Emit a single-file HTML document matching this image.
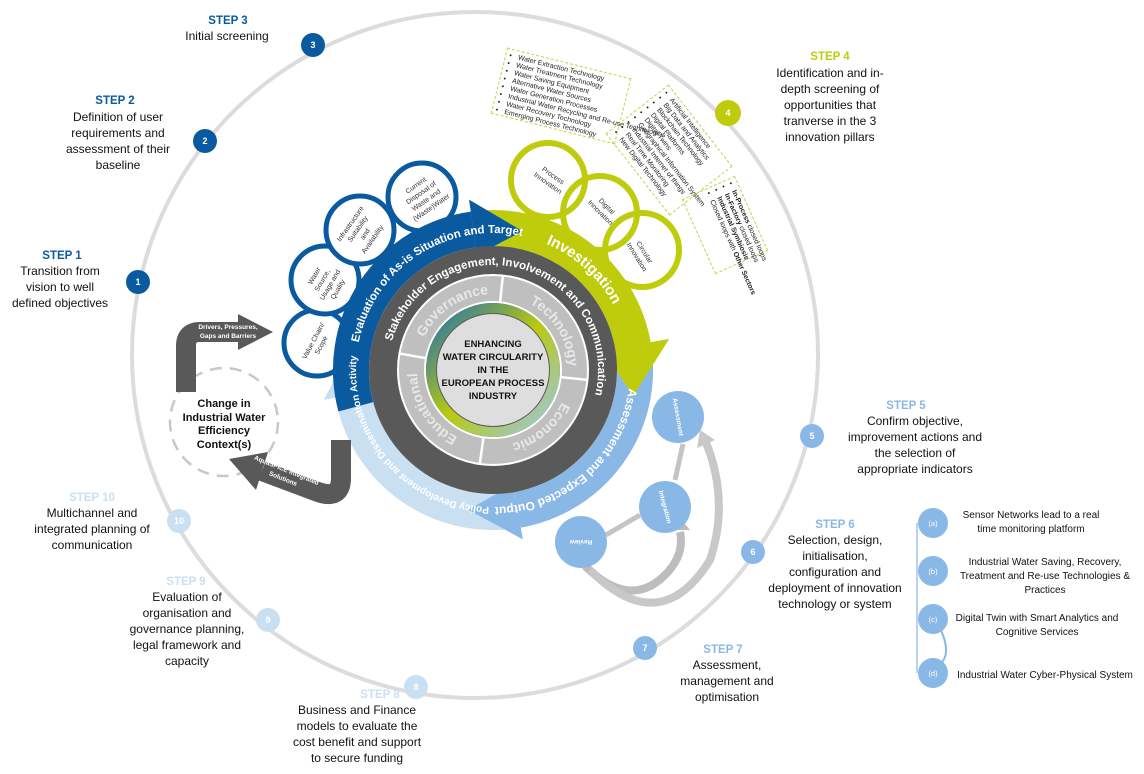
<!DOCTYPE html>
<html><head><meta charset="utf-8"><style>
html,body{margin:0;padding:0;background:#fff;}
#w{position:relative;width:1144px;height:774px;overflow:hidden;font-family:"Liberation Sans",sans-serif;}
svg{position:absolute;left:0;top:0;}
.box{position:absolute;border:1.5px dashed #c5d24a;font-size:7px;line-height:8px;color:#222;box-sizing:border-box;padding:3px 4px 3px 12px;}
.box div{position:relative;white-space:nowrap}
.box div:before{content:"•";position:absolute;left:-9px;}
</style></head><body><div id="w">
<svg width="1144" height="774" viewBox="0 0 1144 774" font-family="Liberation Sans, sans-serif">
<defs>
<linearGradient id="gr" x1="0" y1="0" x2="1" y2="1">
<stop offset="0" stop-color="#1f6fb2"/><stop offset="0.5" stop-color="#b9c90e"/><stop offset="1" stop-color="#9cc6ea"/></linearGradient>
<path id="c137" d="M356,370 a137,137 0 1 1 274,0 a137,137 0 1 1 -274,0 a137,137 0 1 1 274,0 a137,137 0 1 1 -274,0"/>
<path id="c105" d="M388,370 a105,105 0 1 1 210,0 a105,105 0 1 1 -210,0 a105,105 0 1 1 210,0 a105,105 0 1 1 -210,0"/>
<path id="c76" d="M417,370 a76,76 0 1 1 152,0 a76,76 0 1 1 -152,0 a76,76 0 1 1 152,0 a76,76 0 1 1 -152,0"/>
</defs>
<circle cx="475" cy="355" r="343" fill="none" stroke="#dcdcdc" stroke-width="4"/>
<g font-size="9" font-weight="bold" fill="#fff" text-anchor="middle">
<circle cx="138" cy="282" r="12" fill="#0a5aa0"/><text x="138" y="285">1</text>
<circle cx="205" cy="141" r="12" fill="#0a5aa0"/><text x="205" y="144">2</text>
<circle cx="313" cy="45" r="12" fill="#0a5aa0"/><text x="313" y="48">3</text>
<circle cx="728" cy="113" r="13" fill="#bfcc0c"/><text x="728" y="116">4</text>
<circle cx="812" cy="436" r="12" fill="#8ab8e6"/><text x="812" y="439">5</text>
<circle cx="753" cy="552" r="12" fill="#8ab8e6"/><text x="753" y="555">6</text>
<circle cx="645" cy="648" r="12" fill="#8ab8e6"/><text x="645" y="651">7</text>
<circle cx="416" cy="687" r="12" fill="#c9dff2"/><text x="416" y="690">8</text>
<circle cx="268" cy="620" r="12" fill="#c9dff2"/><text x="268" y="623">9</text>
<circle cx="179" cy="521" r="12" fill="#c9dff2"/><text x="179" y="524">10</text>
</g>
<g font-size="12" fill="#111" text-anchor="middle">
<text x="228" y="24" font-weight="bold" fill="#0a5aa0" font-size="11.5">STEP 3</text><text x="227" y="40">Initial screening</text>
<text x="115" y="104" font-weight="bold" fill="#0a5aa0" font-size="11.5">STEP 2</text>
<text x="118" y="121">Definition of user</text><text x="118" y="137">requirements and</text><text x="118" y="153">assessment of their</text><text x="118" y="169">baseline</text>
<text x="62" y="259" font-weight="bold" fill="#0a5aa0" font-size="11.5">STEP 1</text>
<text x="60" y="275">Transition from</text><text x="60" y="291">vision to well</text><text x="60" y="307">defined objectives</text>
<text x="830" y="60" font-weight="bold" fill="#bfcc0c" font-size="11.5">STEP 4</text>
<text x="830" y="77">Identification and in-</text><text x="830" y="93">depth screening of</text><text x="830" y="109">opportunities that</text><text x="830" y="125">tranverse in the 3</text><text x="830" y="141">innovation pillars</text>
<text x="906" y="409" font-weight="bold" fill="#8ab8e6" font-size="11.5">STEP 5</text>
<text x="915" y="425">Confirm objective,</text><text x="915" y="441">improvement actions and</text><text x="915" y="457">the selection of</text><text x="915" y="473">appropriate indicators</text>
<text x="835" y="528" font-weight="bold" fill="#8ab8e6" font-size="11.5">STEP 6</text>
<text x="835" y="544">Selection, design,</text><text x="835" y="560">initialisation,</text><text x="835" y="576">configuration and</text><text x="835" y="592">deployment of innovation</text><text x="835" y="608">technology or system</text>
<text x="723" y="653" font-weight="bold" fill="#8ab8e6" font-size="11.5">STEP 7</text>
<text x="727" y="669">Assessment,</text><text x="727" y="685">management and</text><text x="727" y="701">optimisation</text>
<text x="380" y="698" font-weight="bold" fill="#c9dff2" font-size="11.5">STEP 8</text>
<text x="357" y="714">Business and Finance</text><text x="357" y="730">models to evaluate the</text><text x="357" y="746">cost benefit and support</text><text x="357" y="762">to secure funding</text>
<text x="186" y="585" font-weight="bold" fill="#c9dff2" font-size="11.5">STEP 9</text>
<text x="187" y="601">Evaluation of</text><text x="187" y="617">organisation and</text><text x="187" y="633">governance planning,</text><text x="187" y="649">legal framework and</text><text x="187" y="665">capacity</text>
<text x="92" y="501" font-weight="bold" fill="#c9dff2" font-size="11.5">STEP 10</text>
<text x="92" y="517">Multichannel and</text><text x="92" y="533">integrated planning of</text><text x="92" y="549">communication</text>
</g>
<g fill="#fff" stroke="#0a5aa0" stroke-width="5">
<circle cx="317" cy="343" r="33"/><circle cx="325" cy="280" r="34"/><circle cx="360" cy="230" r="34"/><circle cx="422" cy="197" r="34"/>
</g>
<g font-size="7" fill="#333" text-anchor="middle">
<text transform="translate(317,343) rotate(-62)"><tspan x="0" y="-2">Value Chain/</tspan><tspan x="0" y="7">Scope</tspan></text>
<text transform="translate(325,282) rotate(-60)"><tspan x="0" y="-10">Water</tspan><tspan x="0" y="-1">Source,</tspan><tspan x="0" y="8">Usage and</tspan><tspan x="0" y="17">Quality</tspan></text>
<text transform="translate(362,232) rotate(-55)"><tspan x="0" y="-12">Infrastructure</tspan><tspan x="0" y="-3">Suitability</tspan><tspan x="0" y="6">and</tspan><tspan x="0" y="15">Availability</tspan></text>
<text transform="translate(424,197) rotate(-35)"><tspan x="0" y="-12">Current</tspan><tspan x="0" y="-3">Disposal of</tspan><tspan x="0" y="6">Waste and</tspan><tspan x="0" y="15">(Waste)Water</tspan></text>
</g>
<g fill="none" stroke="#bfcc0c" stroke-width="6">
<circle cx="548" cy="180" r="37"/><circle cx="600" cy="213" r="37"/><circle cx="642" cy="250" r="37"/>
</g>
<g font-size="7" fill="#333" text-anchor="middle">
<text transform="translate(550,180) rotate(35)"><tspan x="0" y="-3">Process</tspan><tspan x="0" y="6">Innovation</tspan></text>
<text transform="translate(603,210) rotate(45)"><tspan x="0" y="-3">Digital</tspan><tspan x="0" y="6">Innovation</tspan></text>
<text transform="translate(640,255) rotate(58)"><tspan x="0" y="-3">Circular</tspan><tspan x="0" y="6">Innovation</tspan></text>
</g>
<g fill="none" stroke-width="36">
<path d="M529.8,507.2 A142,142 0 0 1 353.1,394.7" stroke="#c9dff2"/>
<polygon points="609,370 665,370 626.4,418.6" fill="#c9dff2" stroke="none" transform="rotate(170 493 370)"/>
<path d="M630.2,333.2 A142,142 0 0 1 517.7,509.9" stroke="#8ab8e6"/>
<polygon points="609,370 665,370 626.4,418.6" fill="#8ab8e6" stroke="none" transform="rotate(80 493 370)"/>
<path d="M488.0,228.1 A142,142 0 0 1 632.9,345.3" stroke="#bfcc0c"/>
<polygon points="605,370 672,370 626.4,420" fill="#bfcc0c" stroke="none" transform="rotate(350 493 370)"/>
<path d="M355.8,406.8 A142,142 0 0 1 473.3,229.4" stroke="#0a5aa0"/>
<polygon points="609,370 665,370 626.4,418.6" fill="#0a5aa0" stroke="none" transform="rotate(262 493 370)"/>
</g>
<g fill="#fff" font-weight="bold">
<text font-size="11.5"><textPath href="#c137" startOffset="136" text-anchor="middle">Evaluation of As-is Situation and Target</textPath></text>
<text font-size="15"><textPath href="#c137" startOffset="316" text-anchor="middle">Investigation</textPath></text>
<text font-size="12"><textPath href="#c137" startOffset="546" text-anchor="middle">Assessment and Expected Output</textPath></text>
<text font-size="10"><textPath href="#c137" startOffset="762" text-anchor="middle">Policy Development and Dissemination Activity</textPath></text>
</g>
<circle cx="493" cy="370" r="124" fill="#595959"/>
<text font-size="11.5" fill="#fff" font-weight="bold"><textPath href="#c105" startOffset="192" text-anchor="middle">Stakeholder Engagement, Involvement and Communication</textPath></text>
<circle cx="493" cy="370" r="81.5" fill="none" stroke="#bfbfbf" stroke-width="27"/>
<circle cx="493" cy="370" r="95" fill="none" stroke="#fff" stroke-width="2"/>
<circle cx="493" cy="370" r="68" fill="none" stroke="#fff" stroke-width="2"/>
<g stroke="#fff" stroke-width="2.5">
<line x1="500.1" y1="302.4" x2="502.9" y2="275.5"/>
<line x1="560.6" y1="377.1" x2="587.5" y2="379.9"/>
<line x1="483.5" y1="437.3" x2="479.8" y2="464.1"/>
<line x1="426.0" y1="358.2" x2="399.4" y2="353.5"/>
</g>
<g font-size="14" font-weight="bold" fill="#e8e8e8">
<text><textPath href="#c76" startOffset="74" text-anchor="middle">Governance</textPath></text>
<text><textPath href="#c76" startOffset="196" text-anchor="middle">Technology</textPath></text>
<text><textPath href="#c76" startOffset="305" text-anchor="middle">Economic</textPath></text>
<text><textPath href="#c76" startOffset="434" text-anchor="middle">Educational</textPath></text>
</g>
<circle cx="493" cy="370" r="62" fill="none" stroke="url(#gr)" stroke-width="10"/>
<circle cx="493" cy="370" r="56" fill="#dedede"/>
<g font-size="9.5" font-weight="bold" fill="#111" text-anchor="middle">
<text x="493" y="347">ENHANCING</text><text x="493" y="360">WATER CIRCULARITY</text><text x="493" y="373">IN THE</text><text x="493" y="386">EUROPEAN PROCESS</text><text x="493" y="399">INDUSTRY</text>
</g>
<circle cx="224" cy="422" r="54" fill="none" stroke="#c8c8c8" stroke-width="2.5" stroke-dasharray="12,8"/>
<g font-size="11" font-weight="bold" fill="#111" text-anchor="middle">
<text x="224" y="407">Change in</text><text x="224" y="421">Industrial Water</text><text x="224" y="434">Efficiency</text><text x="224" y="448">Context(s)</text>
</g>
<path d="M186,392 L186,346 Q186,332 200,332 L242,332" fill="none" stroke="#595959" stroke-width="20"/>
<polygon points="238,314 273,332 238,350" fill="#595959"/>
<text font-size="6.5" fill="#fff" font-weight="bold" text-anchor="middle"><tspan x="228" y="329">Drivers,  Pressures,</tspan><tspan x="228" y="338">Gaps and Barriers</tspan></text>
<path d="M341,440 L341,478 Q341,500 318,492 L262,471" fill="none" stroke="#595959" stroke-width="20"/>
<polygon points="268,452 256,490 229,459" fill="#595959"/>
<text font-size="6.5" fill="#fff" font-weight="bold" text-anchor="middle" transform="translate(285,474) rotate(22)"><tspan x="0" y="-2">AquaSPICE Integrated</tspan><tspan x="0" y="7">Solutions</tspan></text>
<g fill="none" stroke="#c4c4c4" stroke-width="5">
<path d="M683,444 L675,480"/><path d="M640,515 L606,535"/>
<path d="M585,566 Q630,610 665,575 Q685,555 680,532" stroke="#bdbdbd" stroke-width="8"/>
<path d="M590,570 Q660,640 710,560 Q730,500 705,440" stroke="#c8c8c8" stroke-width="8"/>
</g>
<polygon points="670,530 690,530 680,518" fill="#bdbdbd"/>
<polygon points="697,448 715,440 700,430" fill="#c8c8c8"/>
<g fill="#8ab8e6"><circle cx="678" cy="417" r="26"/><circle cx="665" cy="507" r="26"/><circle cx="581" cy="542" r="26"/></g>
<g font-size="6.5" fill="#fff" font-weight="bold" text-anchor="middle">
<text transform="translate(678,417) rotate(80)" y="2">Assessment</text>
<text transform="translate(665,507) rotate(75)" y="2">Integration</text>
<text transform="translate(581,542) rotate(180)" y="2">Review</text>
</g>
<path d="M917,523 L917,673" stroke="#b7d3ef" stroke-width="2" fill="none"/>
<path d="M940,628 Q955,660 933,668" stroke="#8ab8e6" stroke-width="2" fill="none"/>
<g fill="#8ab8e6"><circle cx="933" cy="523" r="15"/><circle cx="933" cy="571" r="15"/><circle cx="933" cy="619" r="15"/><circle cx="933" cy="673" r="15"/></g>
<g font-size="7.5" fill="#fff" text-anchor="middle"><text x="933" y="526">(a)</text><text x="933" y="574">(b)</text><text x="933" y="622">(c)</text><text x="933" y="676">(d)</text></g>
<g font-size="10" fill="#111" text-anchor="middle">
<text x="1031" y="518">Sensor Networks lead to a real</text><text x="1031" y="532">time monitoring platform</text>
<text x="1045" y="565">Industrial Water Saving, Recovery,</text><text x="1045" y="579">Treatment and Re-use Technologies &amp;</text><text x="1045" y="593">Practices</text>
<text x="1037" y="621">Digital Twin with Smart Analytics and</text><text x="1037" y="635">Cognitive Services</text>
<text x="1045" y="678">Industrial Water Cyber-Physical System</text>
</g>
</svg>
<div class="box" style="left:497px;top:62px;width:128px;height:68px;transform:rotate(14deg);">
<div>Water Extraction Technology</div><div>Water Treatment Technology</div><div>Water Saving Equipment</div><div>Alternative Water Sources</div><div>Water Generation Processes</div><div>Industrial Water Recycling and Re-use Technologies</div><div>Water Recovery Technology</div><div>Emerging Process Technology</div>
</div>
<div class="box" style="left:617px;top:110px;width:104px;height:80px;transform:rotate(52deg);">
<div>Artificial Intelligence</div><div>Big Data and Analytics</div><div>Blockchain Technology</div><div>Digital Platforms</div><div>Digital Twins</div><div>Geographical Information System</div><div>Industrial Internet of things</div><div>Real Time Monitoring</div><div>New Digital Technology</div>
</div>
<div class="box" style="left:684px;top:196px;width:82px;height:58px;transform:rotate(66deg);">
<div><b>In-Process</b> closed loops</div><div><b>In-Factory</b> closed loops</div><div><b>Industrial Symbiosis</b></div><div>Closed loops with <b>Other Sectors</b></div>
</div>
</div></body></html>
